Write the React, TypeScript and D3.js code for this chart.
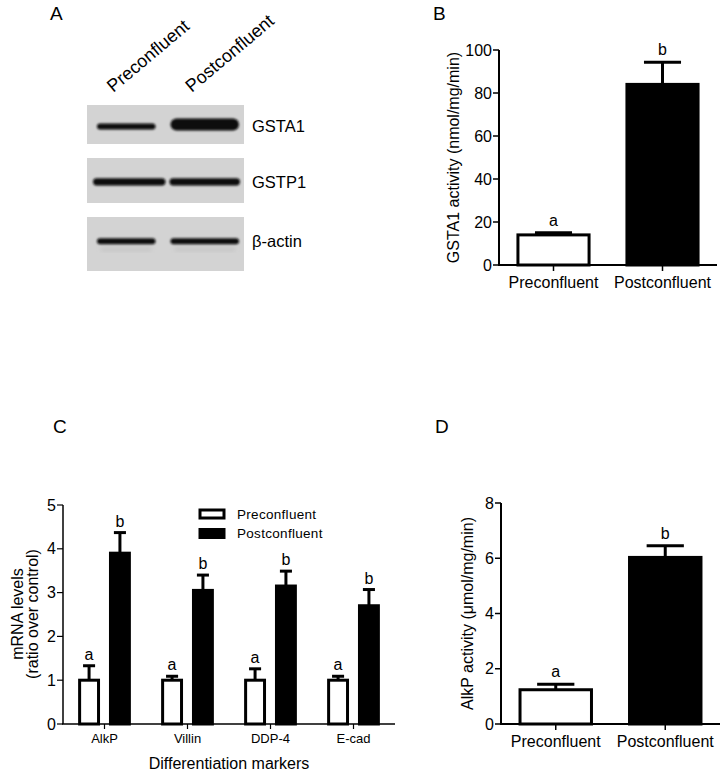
import React from "react";
import * as d3 from "d3";

// ---------- Data ----------
const lanes = ["Preconfluent", "Postconfluent"];
const blotTargets = ["GSTA1", "GSTP1", "β-actin"];
// relative band strength (thickness) per target, per lane
const bandStrength = [
  [0.5, 1.0],
  [0.6, 0.6],
  [0.5, 0.5],
];

const groupsB = ["Preconfluent", "Postconfluent"];
const gstaMean = [14, 84];
const gstaErr = [1, 10.3];
const gstaLetters = ["a", "b"];
const ticksB = [0, 20, 40, 60, 80, 100];

const markers = ["AlkP", "Villin", "DDP-4", "E-cad"];
const series = ["Preconfluent", "Postconfluent"];
const mrnaPre = [1, 1, 1, 1];
const mrnaPreErr = [0.33, 0.09, 0.26, 0.09];
const mrnaPost = [3.9, 3.05, 3.15, 2.7];
const mrnaPostErr = [0.47, 0.35, 0.34, 0.37];
const ticksC = [0, 1, 2, 3, 4, 5];

const alkpMean = [1.24, 6.03];
const alkpErr = [0.2, 0.42];
const alkpLetters = ["a", "b"];
const ticksD = [0, 2, 4, 6, 8];

const FONT = "'Liberation Sans', Arial, Helvetica, sans-serif";

function BarPanel({
  x0, x1, yTop, yBottom, max, ticks, cats, means, errs, letters, title, titleX,
}: any) {
  const x = d3.scaleBand().domain(cats).range([x0, x1]).paddingInner(0.32).paddingOuter(0.16);
  const y = d3.scaleLinear().domain([0, max]).range([yBottom, yTop]);
  const capW = x.bandwidth() * 0.5;
  return (
    <g>
      {cats.map((c: string, i: number) => {
        const bx = x(c)!;
        const cx = bx + x.bandwidth() / 2;
        return (
          <g key={c}>
            <line x1={cx} x2={cx} y1={y(means[i])} y2={y(means[i] + errs[i])} stroke="#000" strokeWidth={3} />
            <line x1={cx - capW / 2} x2={cx + capW / 2} y1={y(means[i] + errs[i])} y2={y(means[i] + errs[i])} stroke="#000" strokeWidth={3} />
            <rect x={bx + 1.5} y={y(means[i])} width={x.bandwidth() - 3} height={y(0) - y(means[i])}
              fill={i === 0 ? "#fff" : "#000"} stroke="#000" strokeWidth={3} />
            <text x={cx} y={y(means[i] + errs[i]) - 7} textAnchor="middle" fontSize={16} fontFamily={FONT}>{letters[i]}</text>
            <line x1={cx} x2={cx} y1={y(0)} y2={y(0) + 6} stroke="#000" strokeWidth={1.5} />
            <text x={cx} y={y(0) + 23} textAnchor="middle" fontSize={16} fontFamily={FONT}>{c}</text>
          </g>
        );
      })}
      <line x1={x0} x2={x0} y1={yTop} y2={yBottom} stroke="#000" strokeWidth={2} />
      <line x1={x0 - 1} x2={x1} y1={yBottom} y2={yBottom} stroke="#000" strokeWidth={2} />
      {ticks.map((t: number) => (
        <g key={t}>
          <line x1={x0 - 6} x2={x0} y1={y(t)} y2={y(t)} stroke="#000" strokeWidth={1.5} />
          <text x={x0 - 7} y={y(t)} dy="0.35em" textAnchor="end" fontSize={16} fontFamily={FONT}>{t}</text>
        </g>
      ))}
      <text transform={`translate(${titleX},${(yTop + yBottom) / 2}) rotate(-90)`} textAnchor="middle"
        dy="0.35em" fontSize={16} fontFamily={FONT}>{title}</text>
    </g>
  );
}

function Blot() {
  const lx = d3.scaleBand().domain(lanes).range([87, 244]);
  const boxTops = [105, 158, 217];
  const boxHeights = [39, 45, 54];
  const bandY = [0.55, 0.53, 0.45];
  return (
    <g>
      <defs>
        <filter id="blur" x="-20%" y="-100%" width="140%" height="300%">
          <feGaussianBlur stdDeviation="1.2" />
        </filter>
        <filter id="blur2" x="-20%" y="-100%" width="140%" height="300%">
          <feGaussianBlur stdDeviation="2" />
        </filter>
      </defs>
      {blotTargets.map((t, r) => {
        const top = boxTops[r];
        const h = boxHeights[r];
        const cy = top + h * bandY[r];
        return (
          <g key={t}>
            <rect x={87} y={top} width={157} height={h} fill="#d3d3d3" />
            {lanes.map((l, j) => {
              const s = bandStrength[r][j];
              const bw = lx.bandwidth();
              const pad = r === 1 ? (j === 0 ? 6 : 4) : (j === 0 ? 10 : 5);
              const bx = lx(l)! + pad;
              const w = bw - pad * 2 + (r === 1 && j === 0 ? 6 : 0);
              const th = 12 * s;
              return (
                <g key={l}>
                  <rect x={bx} y={cy - th / 2 - (r === 0 && j === 1 ? 2 : 0)} width={w} height={th} rx={th / 2}
                    fill="#0d0d0d" filter="url(#blur)" />
                  {r === 2 && (
                    <rect x={bx + 4} y={cy + 7} width={w - 8} height={2} fill="#b8b8b8" filter="url(#blur2)" />
                  )}
                </g>
              );
            })}
            <text x={252} y={cy} dy="0.35em" fontSize={16.5} fontFamily={FONT}>{t}</text>
          </g>
        );
      })}
      {lanes.map((l) => (
        <text key={l} transform={`translate(${lx(l)! + lx.bandwidth() / 2 - 13},${93}) rotate(-40)`} fontSize={18} fontFamily={FONT}>{l}</text>
      ))}
    </g>
  );
}

function GroupedPanel() {
  const x0 = 63, x1 = 395, yTop = 505, yBottom = 724;
  const x = d3.scaleBand().domain(markers).range([x0, x1]);
  const xi = d3.scaleBand().domain(series).range([0, x.bandwidth()]).paddingInner(0.29).paddingOuter(0.49);
  const y = d3.scaleLinear().domain([0, 5]).range([yBottom, yTop]);
  const bw = xi.bandwidth();
  const capW = bw * 0.55;
  const vals = [mrnaPre, mrnaPost];
  const errs = [mrnaPreErr, mrnaPostErr];
  const letters = ["a", "b"];
  return (
    <g>
      {markers.map((m, i) => (
        <g key={m}>
          {series.map((s, k) => {
            const bx = x(m)! + xi(s)!;
            const cx = bx + bw / 2;
            const v = vals[k][i];
            const e = errs[k][i];
            return (
              <g key={s}>
                <line x1={cx} x2={cx} y1={y(v)} y2={y(v + e)} stroke="#000" strokeWidth={3} />
                <line x1={cx - capW / 2} x2={cx + capW / 2} y1={y(v + e)} y2={y(v + e)} stroke="#000" strokeWidth={3} />
                <rect x={bx + 1.5} y={y(v)} width={bw - 3} height={y(0) - y(v)} fill={k === 0 ? "#fff" : "#000"} stroke="#000" strokeWidth={3} />
                <text x={cx} y={y(v + e) - 6} textAnchor="middle" fontSize={16} fontFamily={FONT}>{letters[k]}</text>
              </g>
            );
          })}
          <line x1={x(m)! + x.bandwidth() / 2} x2={x(m)! + x.bandwidth() / 2} y1={yBottom} y2={yBottom + 5} stroke="#000" strokeWidth={1.2} />
          <text x={x(m)! + x.bandwidth() / 2} y={yBottom + 19} textAnchor="middle" fontSize={13} fontFamily={FONT}>{m}</text>
        </g>
      ))}
      <line x1={x0} x2={x0} y1={yTop} y2={yBottom} stroke="#000" strokeWidth={1.5} />
      <line x1={x0 - 1} x2={x1} y1={yBottom} y2={yBottom} stroke="#000" strokeWidth={1.5} />
      {ticksC.map((t) => (
        <g key={t}>
          <line x1={x0 - 6} x2={x0} y1={y(t)} y2={y(t)} stroke="#000" strokeWidth={1.2} />
          <text x={x0 - 7} y={y(t)} dy="0.35em" textAnchor="end" fontSize={16} fontFamily={FONT}>{t}</text>
        </g>
      ))}
      <text transform={`translate(17,614) rotate(-90)`} textAnchor="middle" fontSize={16} fontFamily={FONT} dy="0.35em">mRNA levels</text>
      <text transform={`translate(32,614) rotate(-90)`} textAnchor="middle" fontSize={16} fontFamily={FONT} dy="0.35em">(ratio over control)</text>
      <text x={229} y={763} dy="0.35em" textAnchor="middle" fontSize={16} fontFamily={FONT}>Differentiation markers</text>
      {series.map((s, k) => (
        <g key={s}>
          <rect x={200} y={510 + k * 19.5} width={24} height={8} fill={k === 0 ? "#fff" : "#000"} stroke="#000" strokeWidth={3} />
          <text x={237} y={514 + k * 19.5} dy="0.35em" fontSize={13.5} fontFamily={FONT} letterSpacing="0.3">{s}</text>
        </g>
      ))}
    </g>
  );
}

export default function App() {
  return (
    <svg width={724} height={773} style={{ position: "absolute", left: 0, top: 0, display: "block", background: "#fff" }}>
      <rect width={724} height={773} fill="#fff" />
      <text x={50} y={20} fontSize={19} fontFamily={FONT}>A</text>
      <text x={433} y={20} fontSize={19} fontFamily={FONT}>B</text>
      <text x={53} y={433} fontSize={19} fontFamily={FONT}>C</text>
      <text x={435} y={433} fontSize={19} fontFamily={FONT}>D</text>
      <Blot />
      <BarPanel x0={499} x1={717} yTop={50} yBottom={265} max={100} ticks={ticksB} cats={groupsB}
        means={gstaMean} errs={gstaErr} letters={gstaLetters} title="GSTA1 activity (nmol/mg/min)" titleX={453} />
      <GroupedPanel />
      <BarPanel x0={501} x1={720} yTop={503} yBottom={724} max={8} ticks={ticksD} cats={groupsB}
        means={alkpMean} errs={alkpErr} letters={alkpLetters} title="AlkP activity (μmol/mg/min)" titleX={467} />
    </svg>
  );
}
